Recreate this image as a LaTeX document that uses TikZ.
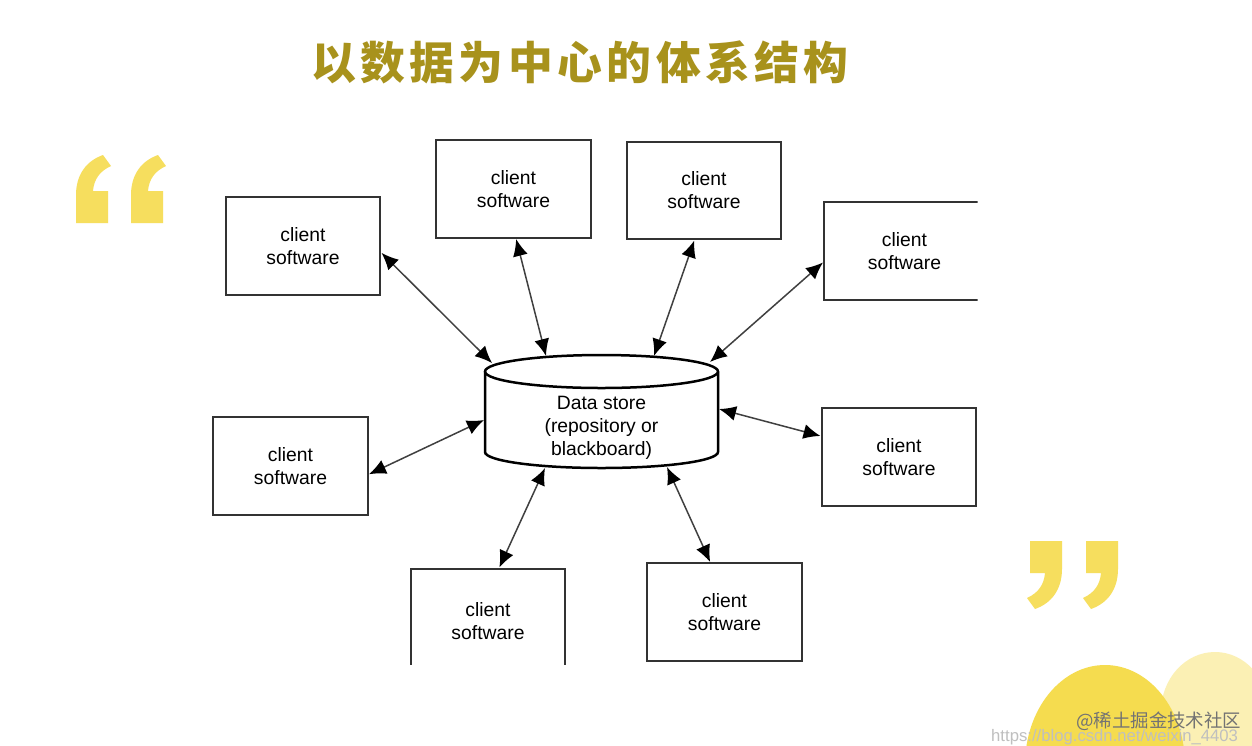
\documentclass[tikz,border=0pt]{standalone}
\usepackage{fontspec}
\setmainfont{Liberation Sans}
\newfontfamily\cjk{Noto Sans CJK SC}
\newfontfamily\cjktitle[LetterSpace=10]{Noto Sans CJK SC}
\usetikzlibrary{arrows.meta}
\definecolor{titlecol}{HTML}{A8921C}
\definecolor{quotecol}{HTML}{F6DE5E}
\definecolor{blobcol}{HTML}{F5DC4F}
\definecolor{lightcol}{HTML}{FBF0B4}
\definecolor{linecol}{HTML}{333333}
\newcommand{\quoteshape}{(0,68) -- (32,68) -- (32,36) -- (17,36) .. controls (18,24) and (24,16) .. (35,11) -- (27,0) .. controls (10,6) and (0,20) .. (0,40) -- cycle}
\begin{document}
\begin{tikzpicture}[x=0.02cm,y=-0.02cm,
  box/.style={draw=linecol, line width=0.04cm, minimum width=3.1cm, minimum height=1.96cm,
    inner sep=0pt, align=center, font=\fontsize{11}{13}\selectfont},
  link/.style={{Latex[length=0.34cm,width=0.3cm,color=black]}-{Latex[length=0.34cm,width=0.3cm,color=black]},
    draw=black!75, line width=0.03cm},
  cyl/.style={draw=black, line width=0.05cm},
  qmark/.style={fill=quotecol, draw=none}]
\fill[white] (0,0) rectangle (1252,745);
\useasboundingbox (0,0) rectangle (1252,745);

% title
\node[text=titlecol, font=\cjktitle\bfseries\fontsize{25.5}{30}\selectfont] (title) at (580,62) {以数据为中心的体系结构};

% quote marks
\begin{scope}[shift={(76,155)}] \fill[qmark] \quoteshape; \end{scope}
\begin{scope}[shift={(131,155)}] \fill[qmark] \quoteshape; \end{scope}
\begin{scope}[shift={(1062,609)},rotate=180] \fill[qmark] \quoteshape; \end{scope}
\begin{scope}[shift={(1118,609)},rotate=180] \fill[qmark] \quoteshape; \end{scope}

% decorative blobs
\fill[lightcol] (1215,712) ellipse [x radius=54, y radius=60];
\fill[blobcol] (1105,765) ellipse [x radius=80, y radius=100];

% watermark
\node[text=black!25, font=\fontsize{9.5}{11}\selectfont, anchor=west] (url) at (985,737) {https://blog.csdn.net/weixin\_4403};
\node[text=black!55, font=\cjk\fontsize{10.5}{12}\selectfont, anchor=west] (wm) at (1070,721) {@稀土掘金技术社区};

% diagram
\begin{scope}
\clip (150,100) rectangle (977.5,664.5);
\node[box] (b1) at (303,246) {client\\software};
\node[box] (b2) at (513.5,189) {client\\software};
\node[box] (b3) at (704,190.5) {client\\software};
\node[box, minimum width=3.22cm] (b4) at (904.5,251) {client\\software};
\node[box] (b5) at (290.5,466) {client\\software};
\node[box] (b6) at (899,457) {client\\software};
\node[box, minimum height=2.1cm] (b7) at (488,621) {client\\software};
\node[box] (b8) at (724.5,612) {client\\software};
\end{scope}

% data store cylinder
\draw[cyl] (485,371.5) -- (485,452) arc[start angle=180, end angle=0, x radius=116.5, y radius=16] -- (718,371.5);
\draw[cyl] (601.5,371.5) ellipse [x radius=116.5, y radius=16.5];
\node[align=center, font=\fontsize{11}{13}\selectfont] (ds) at (601.5,428) {Data store\\(repository or\\blackboard)};

\coordinate (c1) at (492,363);
\coordinate (c2) at (546,356);
\coordinate (c3) at (654,356);
\coordinate (c4) at (710,362);
\coordinate (c5) at (484,420);
\coordinate (c6) at (719,409);
\coordinate (c7) at (545,468);
\coordinate (c8) at (667,467);

\draw[link] (b1.-5) -- (c1);
\draw[link] (b2.-87) -- (c2);
\draw[link] (b3.-101) -- (c3);
\draw[link] (b4.188) -- (c4);
\draw[link] (b5.-6) -- (c5);
\draw[link] (b6.165) -- (c6);
\draw[link] (b7.78) -- (c7);
\draw[link] (b8.106) -- (c8);
\end{tikzpicture}
\end{document}
